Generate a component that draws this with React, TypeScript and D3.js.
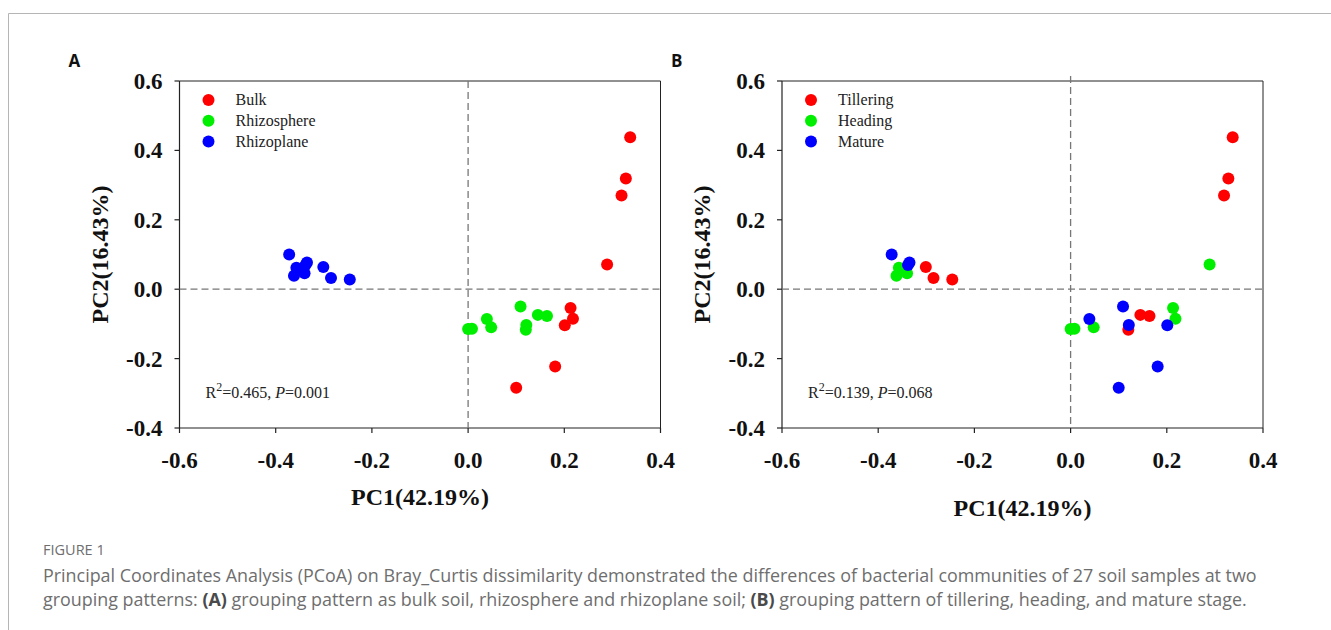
import React from "react";
import * as d3 from "d3";

// ---- Data (27 soil samples) ----
const pc1 = [
  0.337, 0.328, 0.319, 0.289, 0.213, 0.218, 0.201, 0.181, 0.1,
  0.0, 0.008, 0.048, 0.145, 0.164, 0.12, 0.109, 0.121, 0.039,
  -0.301, -0.285, -0.246, -0.357, -0.362, -0.34, -0.372, -0.335, -0.338,
];
const pc2 = [
  0.438, 0.319, 0.27, 0.071, -0.054, -0.085, -0.104, -0.223, -0.284,
  -0.115, -0.114, -0.11, -0.074, -0.077, -0.117, -0.05, -0.103, -0.086,
  0.064, 0.032, 0.028, 0.062, 0.039, 0.046, 0.1, 0.077, 0.07,
];
const compartment = [
  "Bulk", "Bulk", "Bulk", "Bulk", "Bulk", "Bulk", "Bulk", "Bulk", "Bulk",
  "Rhizosphere", "Rhizosphere", "Rhizosphere", "Rhizosphere", "Rhizosphere", "Rhizosphere", "Rhizosphere", "Rhizosphere", "Rhizosphere",
  "Rhizoplane", "Rhizoplane", "Rhizoplane", "Rhizoplane", "Rhizoplane", "Rhizoplane", "Rhizoplane", "Rhizoplane", "Rhizoplane",
];
const stage = [
  "Tillering", "Tillering", "Tillering", "Heading", "Heading", "Heading", "Mature", "Mature", "Mature",
  "Heading", "Heading", "Heading", "Tillering", "Tillering", "Tillering", "Mature", "Mature", "Mature",
  "Tillering", "Tillering", "Tillering", "Heading", "Heading", "Heading", "Mature", "Mature", "Mature",
];
const groupsA = ["Bulk", "Rhizosphere", "Rhizoplane"];
const groupsB = ["Tillering", "Heading", "Mature"];
const groupColors = ["#ff0000", "#00ee00", "#0000ff"];
const xTicks = [-0.6, -0.4, -0.2, 0.0, 0.2, 0.4];
const yTicks = [-0.4, -0.2, 0.0, 0.2, 0.4, 0.6];
const xTitle = "PC1(42.19%)";
const yTitle = "PC2(16.43%)";
const statsA = { r2: "0.465", p: "0.001" };
const statsB = { r2: "0.139", p: "0.068" };

const serif = "'Liberation Serif', 'Times New Roman', serif";
const sans = "'Open Sans', 'Noto Sans', sans-serif";

type PanelProps = {
  left: number;
  letter: string;
  groups: string[];
  assign: string[];
  stats: { r2: string; p: string };
  xTitleY: number;
  dashTopExtra: number;
};

const fmt = (v: number) => d3.format(".1f")(v).replace("\u2212", "-");

function Panel({ left, letter, groups, assign, stats, xTitleY, dashTopExtra }: PanelProps) {
  const width = 481;
  const top = 81;
  const bottom = 428;
  const right = left + width;
  const x = d3.scaleLinear().domain([-0.6, 0.4]).range([left, right]);
  const y = d3.scaleLinear().domain([-0.4, 0.6]).range([bottom, top]);
  const color = d3.scaleOrdinal<string, string>().domain(groups).range(groupColors);
  const axisColor = "#222";
  const order = d3.range(pc1.length).sort(
    (a, b) => groups.indexOf(assign[a]) - groups.indexOf(assign[b]) || a - b
  );
  const cx = (left + right) / 2;
  const cy = (top + bottom) / 2;
  return (
    <g>
      <text x={left - 111} y={67} fontFamily={sans} fontWeight={700} fontSize={17} fill="#111">
        {letter}
      </text>
      {/* frame */}
      <line x1={left} x2={right} y1={top} y2={top} stroke={axisColor} strokeWidth={1} />
      <line x1={right} x2={right} y1={top} y2={bottom} stroke={axisColor} strokeWidth={1} />
      <line x1={left} x2={left} y1={top} y2={bottom} stroke={axisColor} strokeWidth={1.2} />
      <line x1={left} x2={right} y1={bottom} y2={bottom} stroke={axisColor} strokeWidth={1.2} />
      {/* zero lines */}
      <line x1={x(0)} x2={x(0)} y1={top - dashTopExtra} y2={bottom} stroke="#777" strokeWidth={1.3} strokeDasharray="7,4" />
      <line x1={left} x2={right} y1={y(0)} y2={y(0)} stroke="#777" strokeWidth={1.3} strokeDasharray="7,4" />
      {/* x ticks */}
      {xTicks.map((t) => (
        <g key={"x" + t}>
          <line x1={x(t)} x2={x(t)} y1={bottom} y2={bottom + 5} stroke={axisColor} strokeWidth={1.2} />
          <text x={x(t)} y={468} textAnchor="middle" fontFamily={serif} fontWeight={700} fontSize={23} fill="#111">
            {fmt(t)}
          </text>
        </g>
      ))}
      {yTicks.map((t) => (
        <g key={"y" + t}>
          <line x1={left - 5} x2={left} y1={y(t)} y2={y(t)} stroke={axisColor} strokeWidth={1.2} />
          <text x={left - 17} y={y(t)} dy="0.35em" textAnchor="end" fontFamily={serif} fontWeight={700} fontSize={23} fill="#111">
            {fmt(t)}
          </text>
        </g>
      ))}
      <text x={cx} y={xTitleY} textAnchor="middle" fontFamily={serif} fontWeight={700} fontSize={24} fill="#111">
        {xTitle}
      </text>
      <text
        transform={`translate(${left - 80},${cy}) rotate(-90)`}
        textAnchor="middle"
        dy="0.35em"
        fontFamily={serif}
        fontWeight={700}
        fontSize={24}
        fill="#111"
      >
        {yTitle}
      </text>
      {/* points */}
      {order.map((i) => (
        <circle key={i} cx={x(pc1[i])} cy={y(pc2[i])} r={6} fill={color(assign[i])} />
      ))}
      {/* legend */}
      {groups.map((g, k) => (
        <g key={g}>
          <circle cx={left + 29} cy={100 + k * 20.7} r={6} fill={color(g)} />
          <text x={left + 56} y={100 + k * 20.7} dy="0.33em" fontFamily={serif} fontSize={16} fill="#222">
            {g}
          </text>
        </g>
      ))}
      {/* stats */}
      <text x={left + 26} y={398} fontFamily={serif} fontSize={16} fill="#222">
        <tspan>R</tspan>
        <tspan dy={-7} fontSize={12}>2</tspan>
        <tspan dy={7}>{`=${stats.r2}, `}</tspan>
        <tspan fontStyle="italic">P</tspan>
        <tspan>{`=${stats.p}`}</tspan>
      </text>
    </g>
  );
}

export default function App() {
  const capColor = "#6e6e6e";
  return (
    <svg
      width={1331}
      height={630}
      style={{ position: "absolute", left: 0, top: 0, background: "#fff" }}
    >
      <rect x={0} y={0} width={1331} height={630} fill="#fff" />
      <line x1={8.5} x2={1331} y1={13.5} y2={13.5} stroke="#b5b5b5" strokeWidth={1} />
      <line x1={8.5} x2={8.5} y1={13.5} y2={630} stroke="#b5b5b5" strokeWidth={1} />
      <Panel left={179.5} letter="A" groups={groupsA} assign={compartment} stats={statsA} xTitleY={505} dashTopExtra={0} />
      <Panel left={782} letter="B" groups={groupsB} assign={stage} stats={statsB} xTitleY={516} dashTopExtra={5} />
      <text x={43} y={555} fontFamily={sans} fontSize={14.5} fill={capColor}>
        FIGURE 1
      </text>
      <text x={43} y={582} fontFamily={sans} fontSize={17.9} fill={capColor}>
        Principal Coordinates Analysis (PCoA) on Bray_Curtis dissimilarity demonstrated the differences of bacterial communities of 27 soil samples at two
      </text>
      <text x={43} y={606} fontFamily={sans} fontSize={17.9} fill={capColor}>
        <tspan>grouping patterns: </tspan>
        <tspan fontWeight={700} fill="#4a4a4a">(A)</tspan>
        <tspan> grouping pattern as bulk soil, rhizosphere and rhizoplane soil; </tspan>
        <tspan fontWeight={700} fill="#4a4a4a">(B)</tspan>
        <tspan> grouping pattern of tillering, heading, and mature stage.</tspan>
      </text>
    </svg>
  );
}
